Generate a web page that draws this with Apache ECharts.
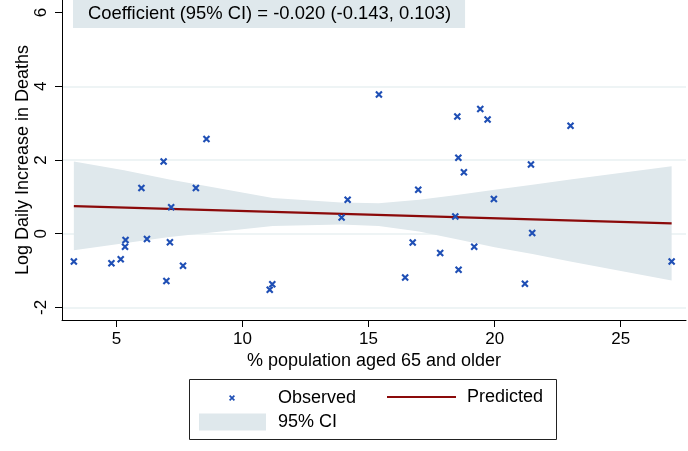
<!DOCTYPE html>
<html>
<head>
<meta charset="utf-8">
<script src="https://cdn.jsdelivr.net/npm/echarts@6/dist/echarts.min.js"></script>
<style>
  html, body { margin: 0; padding: 0; background: #fff; }
  #chart { width: 688px; height: 451px; }
</style>
</head>
<body>
<div id="chart"></div>
<script>
// % of population aged 65+ (x) against log daily increase in deaths (y)
const ageShare = [3.31, 4.80, 5.17, 5.36, 5.34, 5.99, 6.21, 6.87, 6.98, 7.12, 7.17, 7.64, 8.15, 8.57,
  11.08, 11.18, 13.93, 14.17, 15.41, 16.45, 16.75, 16.97, 17.84, 18.44, 18.52, 18.56, 18.57, 18.78,
  19.19, 19.43, 19.72, 19.97, 21.20, 21.44, 21.49, 23.01, 27.02];
const logDeaths = [-0.75, -0.80, -0.69, -0.17, -0.35, 1.24, -0.14, 1.96, -1.28, -0.23, 0.72, -0.87, 1.24, 2.57,
  -1.52, -1.37, 0.44, 0.92, 3.78, -1.19, -0.24, 1.19, -0.52, 0.47, 3.18, 2.06, -0.98, 1.67,
  -0.35, 3.38, 3.10, 0.94, -1.36, 1.88, 0.02, 2.93, -0.75];

// Fitted regression line (end points)
const fitX = [3.31, 27.02];
const fitY = [0.75, 0.28];

// 95% confidence band
const ciX     = [3.31, 5.3, 7.1, 8.5, 11.2, 13.9, 15.4, 17.0, 18.5, 20.0, 21.5, 23.0, 27.02];
const ciUpper = [1.96, 1.72, 1.47, 1.30, 0.97, 0.85, 0.83, 0.92, 1.05, 1.19, 1.33, 1.47, 1.83];
const ciLower = [-0.45, -0.26, -0.09, 0.01, 0.21, 0.25, 0.21, 0.06, -0.15, -0.37, -0.55, -0.75, -1.27];

// Axis ticks and labels
const xTicks = [5, 10, 15, 20, 25];
const yTicks = [-2, 0, 2, 4, 6];
const yGrid = [-2, 0, 2, 4];

const coefText = 'Coefficient (95% CI) = -0.020 (-0.143, 0.103)';
const xTitle = '% population aged 65 and older';
const yTitle = 'Log Daily Increase in Deaths';

const FONT = '"Liberation Sans", Arial, Helvetica, sans-serif';
const BAND = '#dfe8ec';
const BLUE = '#1f4fb5';
const RED = '#8b0a0a';

// an "x" marker built from two filled diagonal bars
const crossPath = 'path://M0,2L2,0L10,8L8,10ZM8,0L10,2L2,10L0,8Z';

const points = ageShare.map((x, i) => [x, logDeaths[i]]);
const fitData = fitX.map((x, i) => [x, fitY[i]]);
const bandData = ciX.map((x, i) => [x, ciLower[i], ciUpper[i]]);

const chart = echarts.init(document.getElementById('chart'), null, { renderer: 'canvas' });

chart.setOption({
  animation: false,
  backgroundColor: '#fff',
  textStyle: { fontFamily: FONT },
  title: {
    text: coefText,
    left: 73,
    top: 0,
    padding: [5, 14, 5, 15],
    backgroundColor: BAND,
    textStyle: { fontFamily: FONT, fontSize: 18.4, fontWeight: 'normal', color: '#000', lineHeight: 18 }
  },
  grid: { left: 62, right: 2, top: 0, bottom: 131, containLabel: false, outerBoundsMode: 'none' },
  xAxis: {
    type: 'value',
    min: 2.84,
    max: 27.59,
    name: xTitle,
    nameLocation: 'middle',
    nameGap: 32,
    nameMoveOverlap: false,
    nameTextStyle: { fontFamily: FONT, fontSize: 18, color: '#000', verticalAlign: 'top' },
    axisLine: { show: true, onZero: false, lineStyle: { color: '#000', width: 1 } },
    axisTick: { show: true, length: 7, customValues: xTicks, lineStyle: { color: '#000' } },
    axisLabel: { customValues: xTicks, fontSize: 17, color: '#000', margin: 11, fontFamily: FONT },
    splitLine: { show: false }
  },
  yAxis: {
    type: 'value',
    min: -2.34,
    max: 6.34,
    name: yTitle,
    nameLocation: 'middle',
    nameGap: 30,
    nameMoveOverlap: false,
    nameTextStyle: { fontFamily: FONT, fontSize: 18, color: '#000' },
    axisLine: { show: true, onZero: false, lineStyle: { color: '#000', width: 1 } },
    axisTick: { show: true, length: 7, customValues: yTicks, lineStyle: { color: '#000' } },
    axisLabel: { customValues: yTicks, fontSize: 17, color: '#000', margin: 12, rotate: 90, fontFamily: FONT },
    splitLine: { show: false }
  },
  legend: [
    {
      data: ['Observed'],
      left: 229, top: 389,
      itemWidth: 6, itemHeight: 6,
      padding: 0,
      textStyle: { fontSize: 18, color: '#000', fontFamily: FONT, padding: [0, 0, 0, 38] }
    },
    {
      data: [{ name: 'Predicted', icon: 'rect' }],
      left: 387, top: 388,
      itemWidth: 69, itemHeight: 2,
      padding: 0,
      textStyle: { fontSize: 18, color: '#000', fontFamily: FONT, padding: [0, 0, 0, 6] }
    },
    {
      data: [{ name: '95% CI', icon: 'rect' }],
      left: 199, top: 413,
      itemWidth: 67, itemHeight: 17,
      padding: 0,
      textStyle: { fontSize: 18, color: '#000', fontFamily: FONT, padding: [0, 0, 0, 7] }
    }
  ],
  graphic: [
    {
      type: 'rect',
      z: -1,
      shape: { x: 189.5, y: 379.5, width: 367, height: 60 },
      style: { fill: '#fff', stroke: '#222', lineWidth: 1 }
    }
  ],
  series: [
    {
      // horizontal reference lines
      name: 'grid',
      type: 'line',
      data: [],
      z: 0,
      markLine: {
        silent: true,
        z: 0,
        symbol: ['none', 'none'],
        label: { show: false },
        lineStyle: { color: '#e8f0f2', width: 1.5, type: 'solid' },
        data: yGrid.map(v => ({ yAxis: v }))
      }
    },
    {
      name: '95% CI',
      type: 'custom',
      z: 1,
      itemStyle: { color: BAND },
      data: bandData,
      encode: { x: 0, y: [1, 2] },
      renderItem: function (params, api) {
        if (params.dataIndex !== 0) return null;
        const upper = bandData.map(d => api.coord([d[0], d[2]]));
        const lower = bandData.slice().reverse().map(d => api.coord([d[0], d[1]]));
        return {
          type: 'polygon',
          shape: { points: upper.concat(lower) },
          style: { fill: BAND }
        };
      }
    },
    {
      name: 'Predicted',
      type: 'line',
      z: 3,
      data: fitData,
      showSymbol: false,
      symbol: 'none',
      lineStyle: { color: RED, width: 2.2 },
      itemStyle: { color: RED }
    },
    {
      name: 'Observed',
      type: 'scatter',
      z: 4,
      data: points,
      symbol: crossPath,
      symbolSize: 7.5,
      itemStyle: { color: BLUE, opacity: 1 }
    }
  ]
});
</script>
</body>
</html>
